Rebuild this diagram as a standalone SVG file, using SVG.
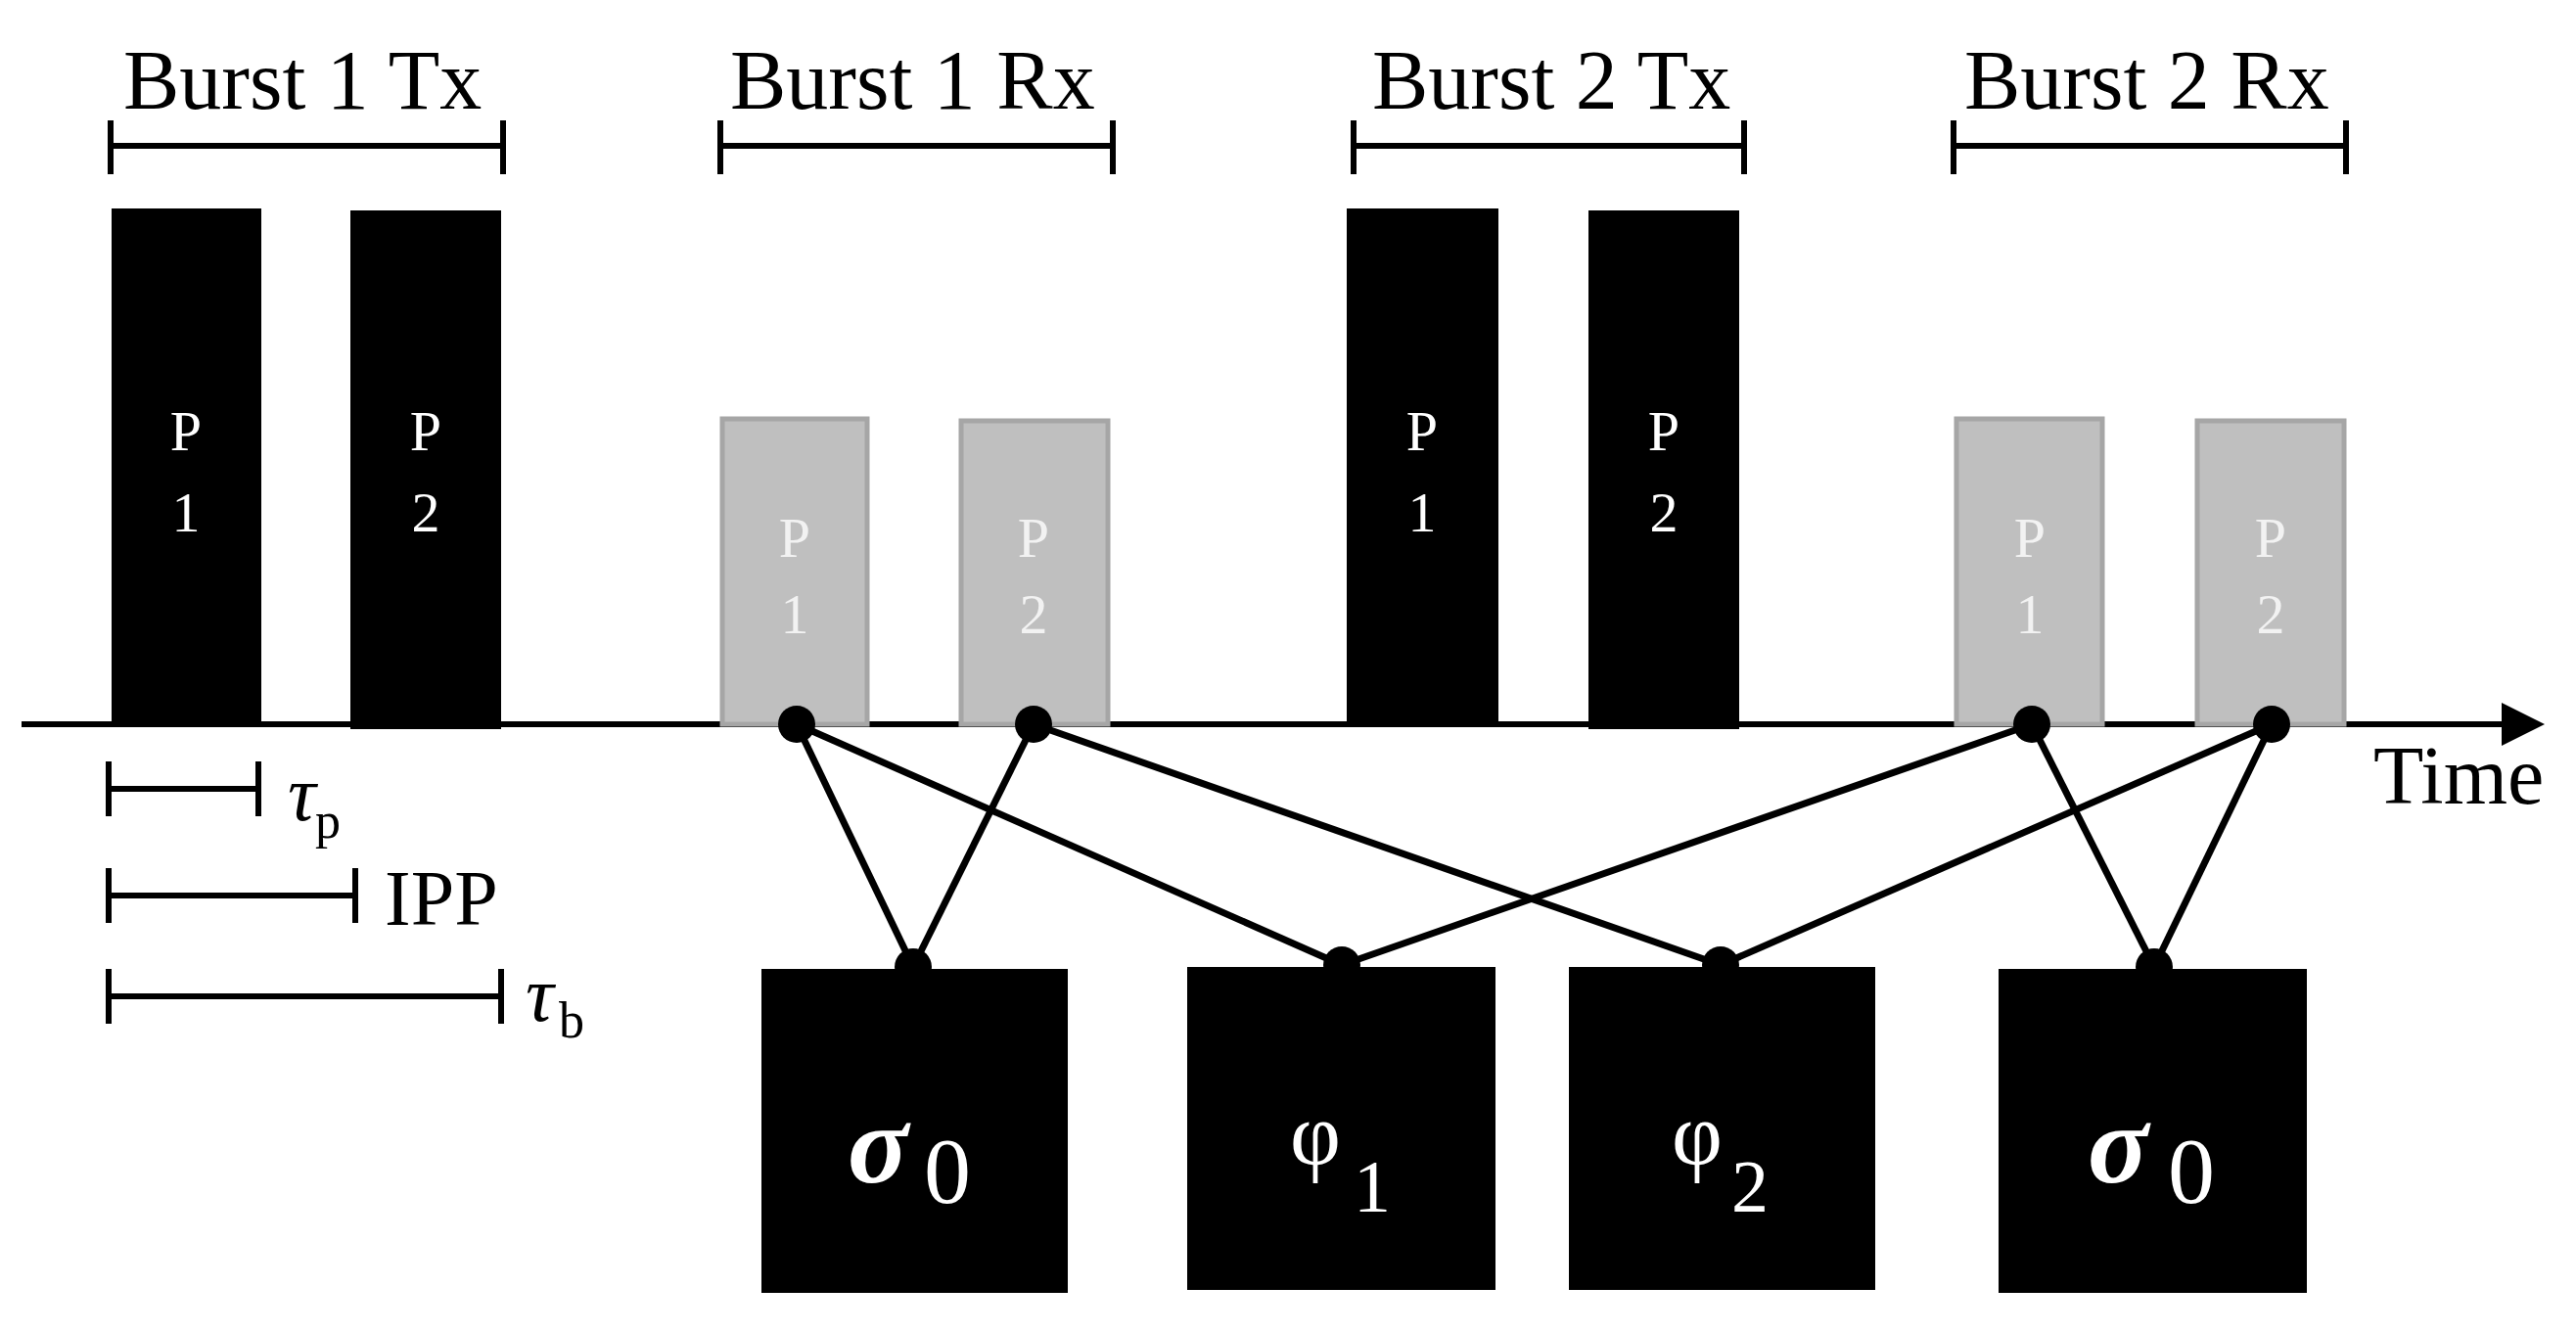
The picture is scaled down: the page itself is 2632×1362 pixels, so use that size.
<svg xmlns="http://www.w3.org/2000/svg" width="2632" height="1362" viewBox="0 0 2632 1362">
<style>
text{font-family:"Liberation Serif","Times New Roman",serif}
.lbl{font-size:86px;fill:#000}
.br{stroke:#000;stroke-width:6;fill:none}
.tx{fill:#000}
.rx{fill:#bfbfbf;stroke:#a6a6a6;stroke-width:5}
.pt{font-size:58px;fill:#fff;text-anchor:middle}
.pr{font-size:58px;fill:#f2f2f2;text-anchor:middle}
.ln{stroke:#000;stroke-width:7}
.box{fill:#000}
.wt{fill:#fff}
</style>
<g id="axis">
<line x1="22" y1="740" x2="2560" y2="740" stroke="#000" stroke-width="6"/>
<polygon points="2556,718 2600,740 2556,762" fill="#000"/>
<text x="2425" y="821" font-size="84">Time</text>
</g>
<g id="burst1tx">
<text class="lbl" x="126" y="111">Burst 1 Tx</text>
<path class="br" d="M113,149H514M113,123V178M514,123V178"/>
</g>
<g id="burst1rx">
<text class="lbl" x="746" y="111">Burst 1 Rx</text>
<path class="br" d="M736,149H1137M736,123V178M1137,123V178"/>
</g>
<g id="burst2tx">
<text class="lbl" x="1402" y="111">Burst 2 Tx</text>
<path class="br" d="M1383,149H1782M1383,123V178M1782,123V178"/>
</g>
<g id="burst2rx">
<text class="lbl" x="2007" y="111">Burst 2 Rx</text>
<path class="br" d="M1996,149H2397M1996,123V178M2397,123V178"/>
</g>
<g id="tx1p1"><rect class="tx" x="114" y="213" width="153" height="527"/><text class="pt" x="190" y="460">P</text><text class="pt" x="190" y="543">1</text></g>
<g id="tx1p2"><rect class="tx" x="358" y="215" width="154" height="530"/><text class="pt" x="435" y="460">P</text><text class="pt" x="435" y="543">2</text></g>
<g id="tx2p1"><rect class="tx" x="1376" y="213" width="155" height="527"/><text class="pt" x="1453" y="460">P</text><text class="pt" x="1453" y="543">1</text></g>
<g id="tx2p2"><rect class="tx" x="1623" y="215" width="154" height="530"/><text class="pt" x="1700" y="460">P</text><text class="pt" x="1700" y="543">2</text></g>
<g id="rx1p1"><rect class="rx" x="738" y="428" width="148" height="312"/><text class="pr" x="812" y="569">P</text><text class="pr" x="812" y="647">1</text></g>
<g id="rx1p2"><rect class="rx" x="982" y="430" width="150" height="310"/><text class="pr" x="1056" y="569">P</text><text class="pr" x="1056" y="647">2</text></g>
<g id="rx2p1"><rect class="rx" x="1999" y="428" width="149" height="312"/><text class="pr" x="2074" y="569">P</text><text class="pr" x="2074" y="647">1</text></g>
<g id="rx2p2"><rect class="rx" x="2245" y="430" width="150" height="310"/><text class="pr" x="2320" y="569">P</text><text class="pr" x="2320" y="647">2</text></g>
<g id="tau_p"><path class="br" d="M111,806H264M111,778V834M264,778V834"/><text x="294" y="838" font-size="80" font-style="italic">τ</text><text x="322" y="856" font-size="52">p</text></g>
<g id="ipp"><path class="br" d="M111,915H363M111,887V943M363,887V943"/><text x="393" y="945" font-size="80">IPP</text></g>
<g id="tau_b"><path class="br" d="M111,1018H512M111,990V1046M512,990V1046"/><text x="537" y="1043" font-size="80" font-style="italic">τ</text><text x="571" y="1060" font-size="52">b</text></g>
<g id="sigma0a"><rect class="box" x="778" y="990" width="313" height="331"/><text class="wt" x="866" y="1208" font-size="115" font-weight="bold" font-style="italic">σ</text><text class="wt" x="944" y="1229" font-size="96">0</text></g>
<g id="phi1"><rect class="box" x="1213" y="988" width="315" height="330"/><text class="wt" x="1318" y="1190" font-size="90">φ</text><text class="wt" x="1383" y="1238" font-size="76">1</text></g>
<g id="phi2"><rect class="box" x="1603" y="988" width="313" height="330"/><text class="wt" x="1708" y="1190" font-size="90">φ</text><text class="wt" x="1769" y="1238" font-size="76">2</text></g>
<g id="sigma0b"><rect class="box" x="2042" y="990" width="315" height="331"/><text class="wt" x="2133" y="1208" font-size="115" font-weight="bold" font-style="italic">σ</text><text class="wt" x="2215" y="1229" font-size="96">0</text></g>
<g id="connectors">
<line class="ln" x1="814" y1="740" x2="933" y2="988"/>
<line class="ln" x1="1056" y1="740" x2="933" y2="988"/>
<line class="ln" x1="814" y1="740" x2="1371" y2="986"/>
<line class="ln" x1="1056" y1="740" x2="1758" y2="986"/>
<line class="ln" x1="2076" y1="740" x2="1371" y2="986"/>
<line class="ln" x1="2321" y1="740" x2="1758" y2="986"/>
<line class="ln" x1="2076" y1="740" x2="2201" y2="988"/>
<line class="ln" x1="2321" y1="740" x2="2201" y2="988"/>
<circle cx="814" cy="740" r="19"/><circle cx="1056" cy="740" r="19"/>
<circle cx="2076" cy="740" r="19"/><circle cx="2321" cy="740" r="19"/>
<circle cx="933" cy="988" r="19"/><circle cx="1371" cy="986" r="19"/>
<circle cx="1758" cy="986" r="19"/><circle cx="2201" cy="988" r="19"/>
</g>
</svg>
